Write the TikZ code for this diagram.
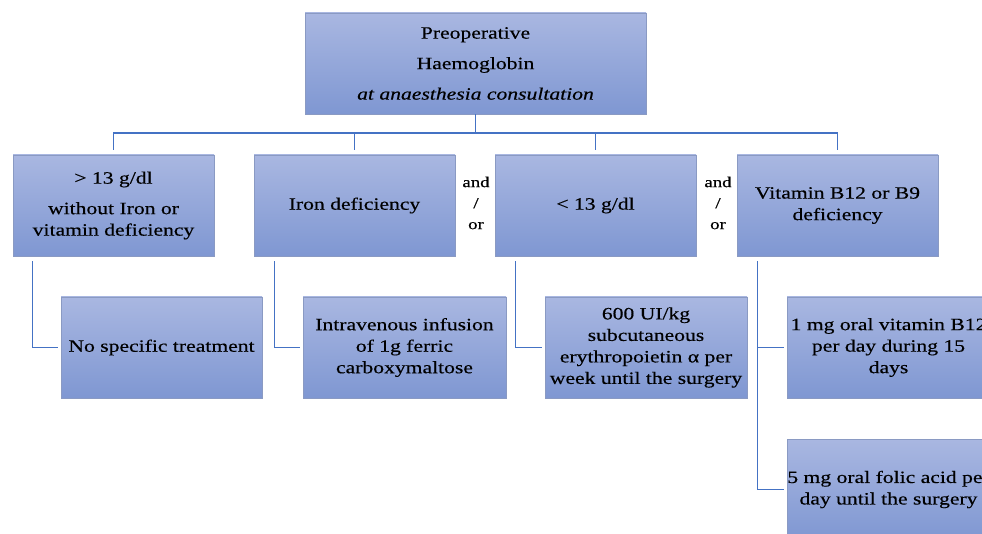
\documentclass[tikz,border=0pt]{standalone}
\usepackage{fontspec}
\setmainfont{Liberation Serif}[FakeStretch=1.25,FakeBold=0.35]
\begin{document}
\begin{tikzpicture}[x=1pt,y=-1pt,
  box/.style={draw=boxborder,line width=0.9pt,top color=boxtop,bottom color=boxbot,
    minimum width=201pt,minimum height=101pt,inner sep=0pt,align=center,
    font=\fontsize{17.3}{21.5}\selectfont,text=black},
  andor/.style={align=center,font=\fontsize{15}{21}\selectfont,inner sep=0pt},
  conn/.style={draw=connblue,line width=1.6pt}]
\definecolor{boxtop}{HTML}{A9B7E1}
\definecolor{boxbot}{HTML}{7F97D2}
\definecolor{boxborder}{HTML}{8A9AC3}
\definecolor{connblue}{HTML}{4472C4}
\useasboundingbox (0,0) rectangle (982,534);
\clip (0,0) rectangle (982,534);
% top
\node[box,minimum width=341pt] (top) at (475.5,63.5) {Preoperative\\[9pt]Haemoglobin\\[9pt]\textit{at anaesthesia consultation}};
% row 1
\node[box] (b1) at (113.5,205.5) {> 13 g/dl\\[9pt]without Iron or\\vitamin deficiency};
\node[box] (b2) at (354.5,205.5) {Iron deficiency};
\node[box] (b3) at (595.5,205.5) {< 13 g/dl};
\node[box] (b4) at (837.5,205.5) {Vitamin B12 or B9\\deficiency};
\node[andor] (ao1) at (476,203) {and\\/\\or};
\node[andor] (ao2) at (718,203) {and\\/\\or};
% row 2
\node[box] (t1) at (161.5,347.5) {No specific treatment};
\node[box,minimum width=203pt] (t2) at (404.5,347.5) {Intravenous infusion\\of 1g ferric\\carboxymaltose};
\node[box,minimum width=202pt] (t3) at (646,347.5) {600 UI/kg\\subcutaneous\\erythropoietin α per\\week until the surgery};
\node[box,minimum width=203pt] (t4) at (888.5,347.5) {1 mg oral vitamin B12\\per day during 15\\days};
\node[box,minimum width=203pt] (t5) at (888.5,489.5) {5 mg oral folic acid per\\day until the surgery};
% bus
\coordinate (busL) at (113,133);
\coordinate (busR) at (838,133);
\draw[conn] (top.south) -- (top.south |- busL);
\draw[conn] (busL) -- (busR);
\foreach \b in {b1,b2,b3,b4}
  \draw[conn] (\b.north |- busL) -- ([yshift=5pt]\b.north);
% side connectors
\draw[conn] ([xshift=20pt,yshift=-5pt]b1.south west) |- ([xshift=-3pt]t1.west);
\draw[conn] ([xshift=21pt,yshift=-5pt]b2.south west) |- ([xshift=-3pt]t2.west);
\draw[conn] ([xshift=21pt,yshift=-5pt]b3.south west) |- ([xshift=-3pt]t3.west);
\draw[conn] ([xshift=21pt,yshift=-5pt]b4.south west) |- ([xshift=-3pt]t5.west);
\draw[conn] ([xshift=21pt]b4.south west |- t4.west) -- ([xshift=-3pt]t4.west);
\end{tikzpicture}
\end{document}
